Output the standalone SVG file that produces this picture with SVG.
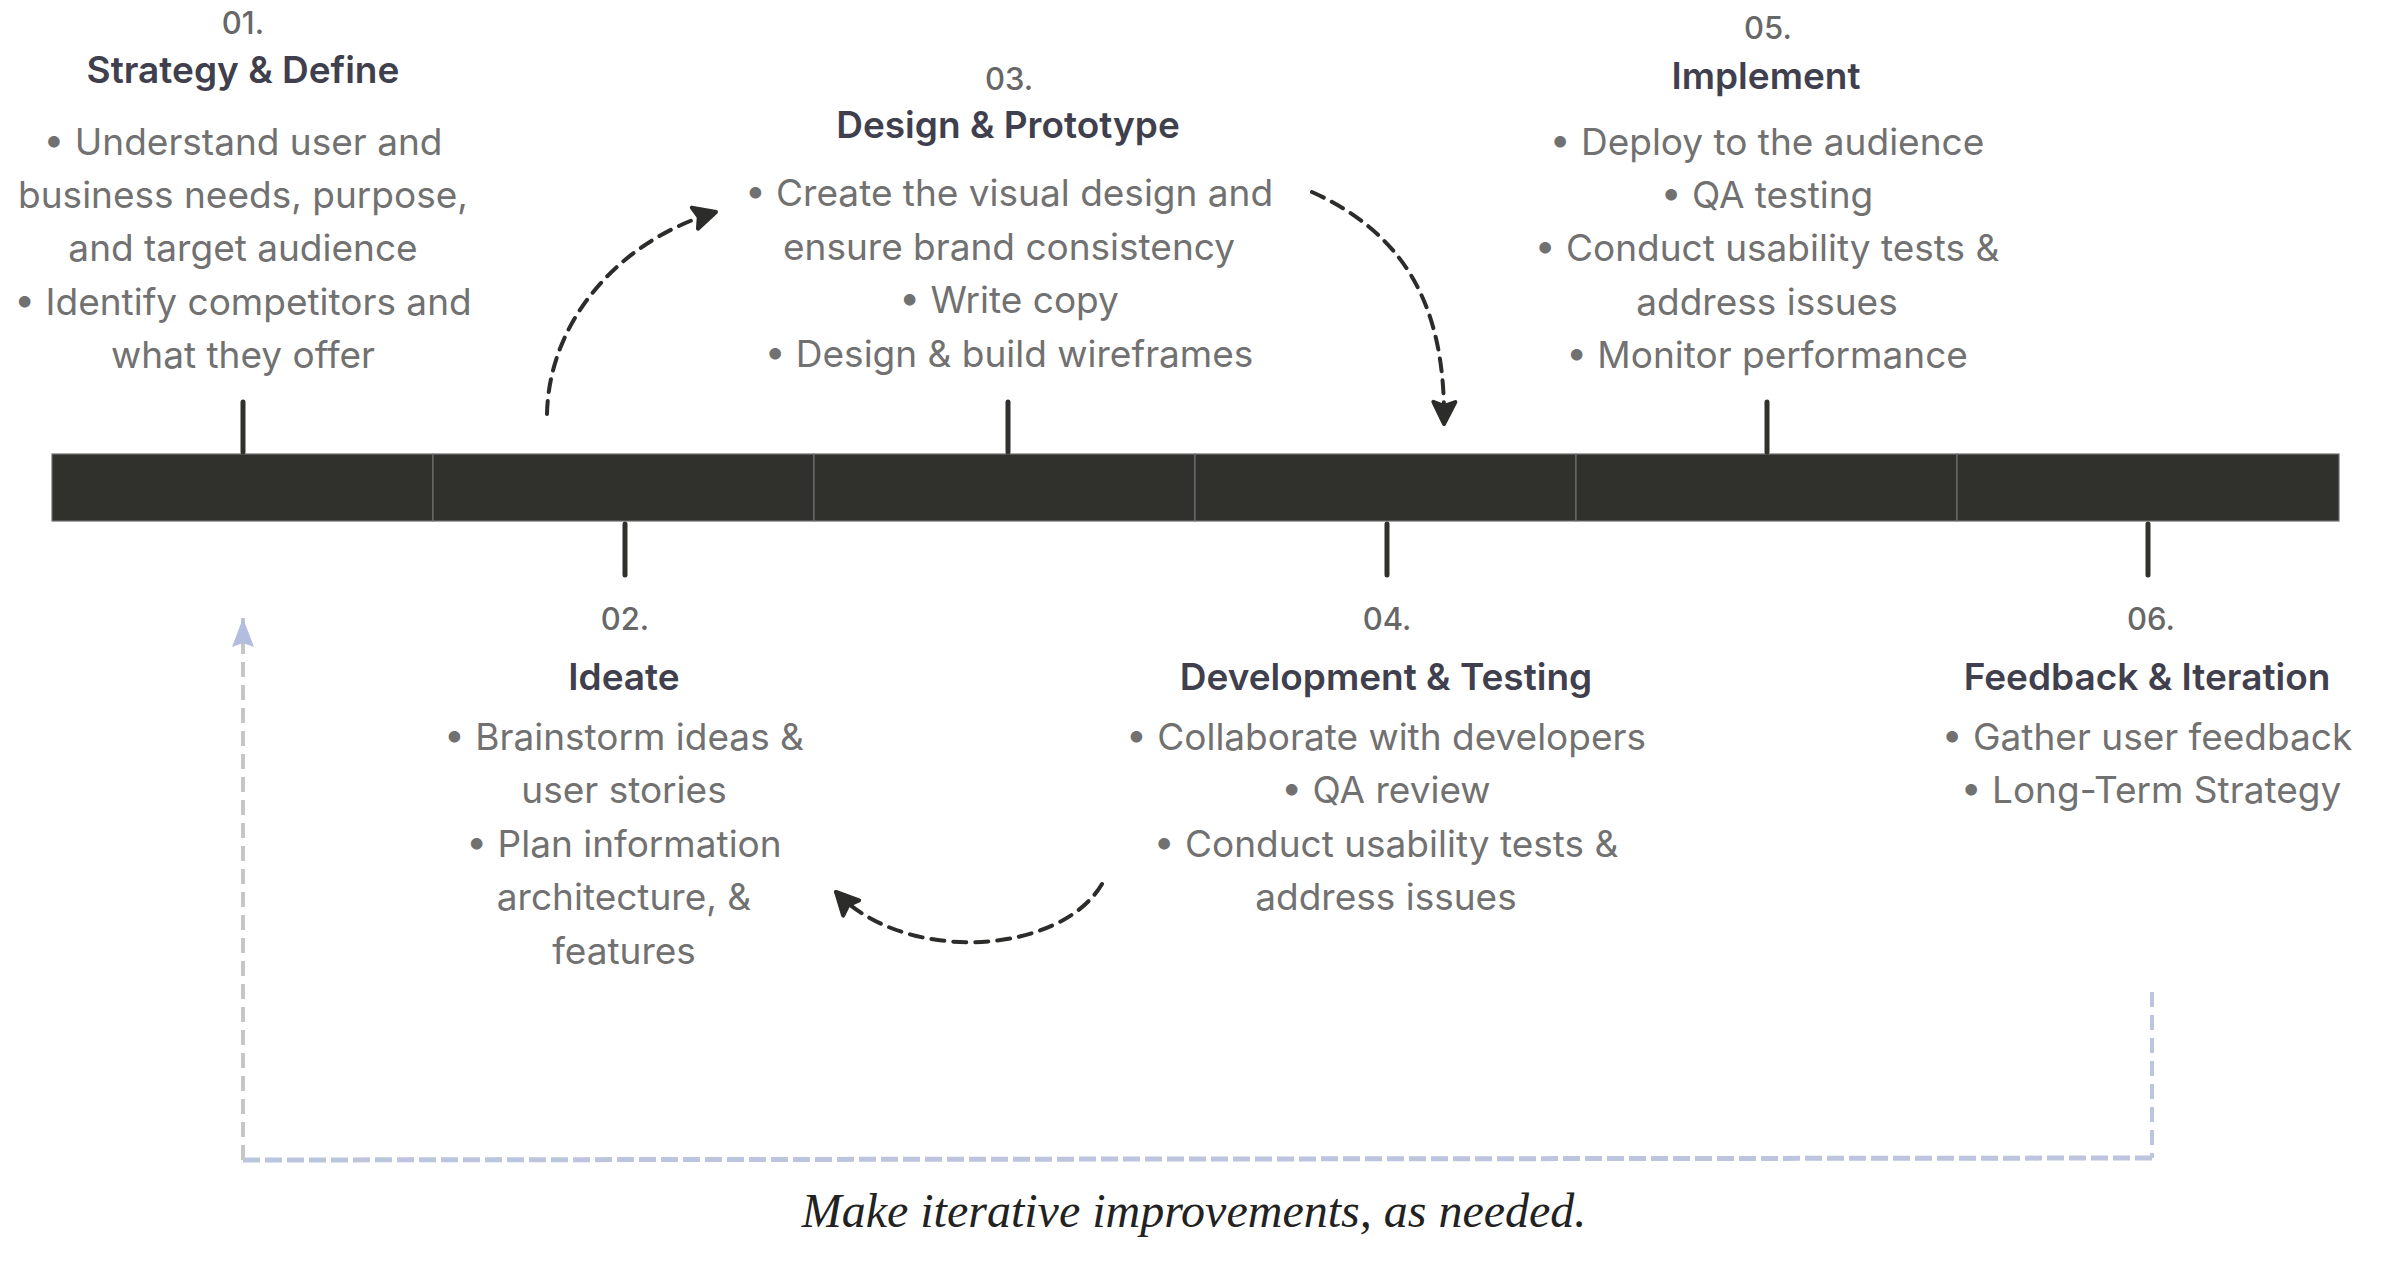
<svg xmlns="http://www.w3.org/2000/svg" width="2395" height="1261" viewBox="0 0 2395 1261">
<defs>
<style>
.num{font-family:Inter,"Liberation Sans",sans-serif;font-size:31px;font-weight:500;fill:#676767;text-anchor:middle}
.hd{font-family:Inter,"Liberation Sans",sans-serif;font-size:37px;font-weight:600;fill:#3f3f4d;text-anchor:middle}
.bd{font-family:Inter,"Liberation Sans",sans-serif;font-size:37px;font-weight:400;fill:#717171;text-anchor:middle}
.seg{fill:#30302c;stroke:#6f6f6f;stroke-width:1.2}
.tick{stroke:#30302c;stroke-width:5;stroke-linecap:round}
.dash{fill:none;stroke:#2c2c2a;stroke-width:4;stroke-dasharray:13 9;stroke-linecap:round}
.cap{font-family:"Liberation Serif",serif;font-style:italic;font-size:48px;fill:#222;text-anchor:middle}
</style>
<marker id="ah" viewBox="-3 -3 30 30" refX="23" refY="12" markerWidth="30" markerHeight="30" orient="auto" markerUnits="userSpaceOnUse">
<path d="M1,1 L23,12 L1,23 L5,12 z" fill="#2c2c2a" stroke="#2c2c2a" stroke-width="4" stroke-linejoin="round"/>
</marker>
<marker id="ahb" viewBox="0 0 30 24" refX="29" refY="12" markerWidth="30" markerHeight="24" orient="auto" markerUnits="userSpaceOnUse">
<path d="M0,1 L29,12 L0,23 L4,12 z" fill="#b3bde0"/>
</marker>
</defs>
<rect width="2395" height="1261" fill="#ffffff"/>
<g id="timeline">
<rect class="seg" x="52" y="454" width="381" height="67"/>
<rect class="seg" x="433" y="454" width="381" height="67"/>
<rect class="seg" x="814" y="454" width="381" height="67"/>
<rect class="seg" x="1195" y="454" width="381" height="67"/>
<rect class="seg" x="1576" y="454" width="381" height="67"/>
<rect class="seg" x="1957" y="454" width="382" height="67"/>
</g>
<g id="step1">
<line class="tick" x1="243" y1="402" x2="243" y2="452"/>
<text class="num" x="243" y="34">01.</text>
<text class="hd" x="243" y="83">Strategy &amp; Define</text>
<text class="bd" x="243" y="155">• Understand user and</text>
<text class="bd" x="243" y="208">business needs, purpose,</text>
<text class="bd" x="243" y="261">and target audience</text>
<text class="bd" x="243" y="315">• Identify competitors and</text>
<text class="bd" x="243" y="368">what they offer</text>
</g>
<g id="step2">
<line class="tick" x1="625" y1="524" x2="625" y2="575"/>
<text class="num" x="625" y="630">02.</text>
<text class="hd" x="624" y="690">Ideate</text>
<text class="bd" x="624" y="750">• Brainstorm ideas &amp;</text>
<text class="bd" x="624" y="803">user stories</text>
<text class="bd" x="624" y="857">• Plan information</text>
<text class="bd" x="624" y="910">architecture, &amp;</text>
<text class="bd" x="624" y="964">features</text>
</g>
<g id="step3">
<line class="tick" x1="1008" y1="402" x2="1008" y2="452"/>
<text class="num" x="1009" y="90">03.</text>
<text class="hd" x="1008" y="138">Design &amp; Prototype</text>
<text class="bd" x="1009" y="206">• Create the visual design and</text>
<text class="bd" x="1009" y="260">ensure brand consistency</text>
<text class="bd" x="1009" y="313">• Write copy</text>
<text class="bd" x="1009" y="367">• Design &amp; build wireframes</text>
</g>
<g id="step4">
<line class="tick" x1="1387" y1="524" x2="1387" y2="575"/>
<text class="num" x="1387" y="630">04.</text>
<text class="hd" x="1386" y="690">Development &amp; Testing</text>
<text class="bd" x="1386" y="750">• Collaborate with developers</text>
<text class="bd" x="1386" y="803">• QA review</text>
<text class="bd" x="1386" y="857">• Conduct usability tests &amp;</text>
<text class="bd" x="1386" y="910">address issues</text>
</g>
<g id="step5">
<line class="tick" x1="1767" y1="402" x2="1767" y2="452"/>
<text class="num" x="1768" y="39">05.</text>
<text class="hd" x="1766" y="89">Implement</text>
<text class="bd" x="1767" y="155">• Deploy to the audience</text>
<text class="bd" x="1767" y="208">• QA testing</text>
<text class="bd" x="1767" y="261">• Conduct usability tests &amp;</text>
<text class="bd" x="1767" y="315">address issues</text>
<text class="bd" x="1767" y="368">• Monitor performance</text>
</g>
<g id="step6">
<line class="tick" x1="2148" y1="524" x2="2148" y2="575"/>
<text class="num" x="2151" y="630">06.</text>
<text class="hd" x="2147" y="690">Feedback &amp; Iteration</text>
<text class="bd" x="2147" y="750">• Gather user feedback</text>
<text class="bd" x="2151" y="803">• Long-Term Strategy</text>
</g>
<g id="connectors">
<path class="dash" d="M547 414 C549 320 620 240 716 212" marker-end="url(#ah)"/>
<path class="dash" d="M1312 192 C1400 232 1446 300 1444 424" marker-end="url(#ah)"/>
<path class="dash" d="M1102 884 C1060 955 905 965 836 892" marker-end="url(#ah)"/>
<path fill="none" stroke="#bcc4de" stroke-width="4" stroke-dasharray="15 8" d="M2152 992 L2152 1158"/>
<path fill="none" stroke="#bcc4de" stroke-width="5" stroke-dasharray="17 5" d="M2152 1158 L243 1160"/>
<path fill="none" stroke="#c6c6c6" stroke-width="4" stroke-dasharray="15 8" d="M243 1160 L243 618" marker-end="url(#ahb)"/>
</g>
<text class="cap" x="1194" y="1227">Make iterative improvements, as needed.</text>
</svg>
